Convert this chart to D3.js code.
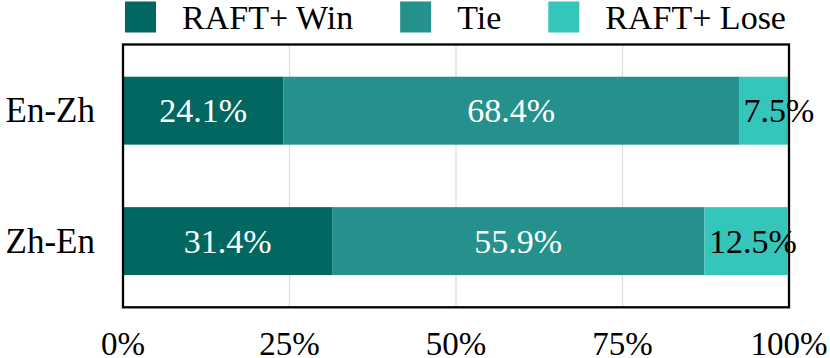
<!DOCTYPE html>
<html>
<head>
<meta charset="utf-8">
<script src="https://cdn.jsdelivr.net/npm/d3@7"></script>
<style>
  body { margin: 0; background: #fff; }
</style>
</head>
<body>
<svg id="chart" width="830" height="358"></svg>
<script>
var pairs = ["En-Zh", "Zh-En"];
var seriesNames = ["RAFT+ Win", "Tie", "RAFT+ Lose"];
var winValues = [24.1, 31.4];
var tieValues = [68.4, 55.9];
var loseValues = [7.5, 12.5];
var xTicks = [0, 25, 50, 75, 100];
var colors = ["#026761", "#25918c", "#34c6ba"];

var FONT = "'Liberation Serif'";

var svg = d3.select("#chart"),
    plotLeft = 123, plotRight = 789, plotTop = 44.5, plotBottom = 307.3;

var x = d3.scaleLinear().domain([0, 100]).range([plotLeft, plotRight]);
var y = d3.scaleBand().domain(pairs).range([plotTop, plotBottom])
    .paddingInner(0.479).paddingOuter(0.247);

var rows = pairs.map(function(p, i) {
    return { pair: p, win: winValues[i], tie: tieValues[i], lose: loseValues[i] };
});
var stack = d3.stack().keys(["win", "tie", "lose"]);
var layers = stack(rows);

// grid lines
svg.append("g").selectAll("line")
    .data(xTicks.filter(function(t) { return t > 0 && t < 100; }))
    .enter().append("line")
    .attr("x1", function(d) { return x(d); })
    .attr("x2", function(d) { return x(d); })
    .attr("y1", plotTop).attr("y2", plotBottom)
    .attr("stroke", "#dcdcdc").attr("stroke-width", 1.2);

// bars
var layer = svg.append("g").selectAll("g")
    .data(layers)
    .enter().append("g")
    .attr("fill", function(d, i) { return colors[i]; });

layer.selectAll("rect")
    .data(function(d) { return d; })
    .enter().append("rect")
    .attr("x", function(d) { return x(d[0]); })
    .attr("width", function(d) { return x(d[1]) - x(d[0]); })
    .attr("y", function(d) { return y(d.data.pair); })
    .attr("height", y.bandwidth());

// value labels
layers.forEach(function(l, li) {
    svg.append("g").selectAll("text")
        .data(l)
        .enter().append("text")
        .attr("x", function(d) {
            return li < 2 ? (x(d[0]) + x(d[1])) / 2 : x(d[0]) + 4.5;
        })
        .attr("y", function(d) { return y(d.data.pair) + y.bandwidth() / 2 + 11.8; })
        .attr("text-anchor", li < 2 ? "middle" : "start")
        .attr("font-size", 34)
        .style("font-family", FONT)
        .attr("fill", li < 2 ? "#fff" : "#000")
        .text(function(d) { return d.data[l.key].toFixed(1) + "%"; });
});

// frame
svg.append("rect")
    .attr("x", plotLeft).attr("y", plotTop)
    .attr("width", plotRight - plotLeft).attr("height", plotBottom - plotTop)
    .attr("fill", "none").attr("stroke", "#000").attr("stroke-width", 2.3);

// y labels
svg.append("g").selectAll("text")
    .data(pairs)
    .enter().append("text")
    .attr("x", 95)
    .attr("y", function(d) { return y(d) + y.bandwidth() / 2 + 11.8; })
    .attr("text-anchor", "end")
    .attr("font-size", 35)
    .style("font-family", FONT)
    .text(function(d) { return d; });

// x tick labels
svg.append("g").selectAll("text")
    .data(xTicks)
    .enter().append("text")
    .attr("x", function(d) { return x(d); })
    .attr("y", 354.5)
    .attr("text-anchor", "middle")
    .attr("font-size", 33)
    .style("font-family", FONT)
    .text(function(d) { return d + "%"; });

// legend
var lx = 125;
seriesNames.forEach(function(name, i) {
    svg.append("rect")
        .attr("x", lx).attr("y", 1.5)
        .attr("width", 31).attr("height", 31)
        .attr("fill", colors[i]);
    var t = svg.append("text")
        .attr("x", lx + 57).attr("y", 28.5)
        .attr("font-size", 34)
        .style("font-family", FONT)
        .text(name);
    lx = lx + 57 + t.node().getComputedTextLength() + 47;
});
</script>
</body>
</html>
